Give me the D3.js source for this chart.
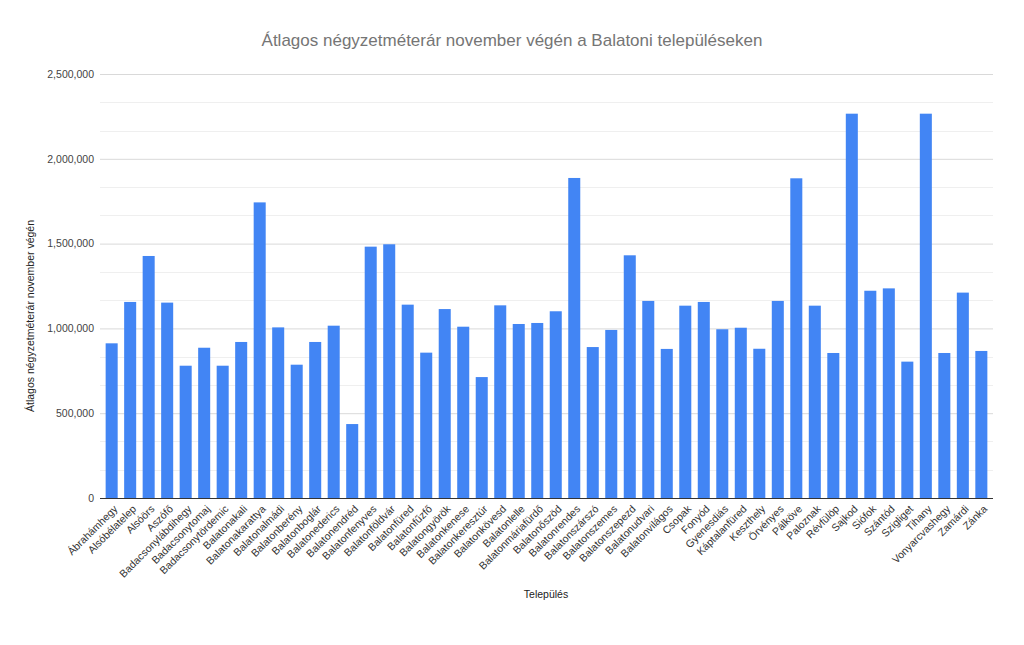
<!DOCTYPE html>
<html>
<head>
<meta charset="utf-8">
<script src="https://cdn.jsdelivr.net/npm/d3@7/dist/d3.min.js"></script>
<style>
  html, body { margin: 0; padding: 0; background: #fff; }
  svg { display: block; font-family: "Liberation Sans", Arial, sans-serif; }
</style>
</head>
<body>
<svg id="chart" width="1024" height="645"></svg>
<script>
const categories = ["Ábrahámhegy","Alsóbélatelep","Alsóörs","Aszófő","Badacsonylábdihegy","Badacsonytomaj","Badacsonytördemic","Balatonakali","Balatonakarattya","Balatonalmádi","Balatonberény","Balatonboglár","Balatonederics","Balatonendréd","Balatonfenyves","Balatonföldvár","Balatonfüred","Balatonfűzfő","Balatongyörök","Balatonkenese","Balatonkeresztúr","Balatonkövesd","Balatonlelle","Balatonmáriafürdő","Balatonőszöd","Balatonrendes","Balatonszárszó","Balatonszemes","Balatonszepezd","Balatonudvari","Balatonvilágos","Csopak","Fonyód","Gyenesdiás","Káptalanfüred","Keszthely","Örvényes","Pálköve","Paloznak","Révfülöp","Sajkod","Siófok","Szántód","Szigliget","Tihany","Vonyarcvashegy","Zamárdi","Zánka"];
const values = [912000,1156000,1427000,1152000,780000,886000,780000,920000,1743000,1006000,786000,920000,1016000,436000,1482000,1496000,1140000,857000,1114000,1010000,713000,1136000,1026000,1032000,1101000,1887000,890000,991000,1431000,1162000,879000,1134000,1156000,995000,1004000,880000,1162000,1885000,1134000,855000,2266000,1222000,1236000,804000,2266000,855000,1211000,867000];
const yTicks = [0, 500000, 1000000, 1500000, 2000000, 2500000];
const title = "Átlagos négyzetméterár november végén a Balatoni településeken";
const yTitle = "Átlagos négyzetméterár november végén";
const xTitle = "Település";

const svg = d3.select("#chart");
const plotLeft = 100, plotRight = 993, plotTop = 74, plotBottom = 498;

const x = d3.scaleBand().domain(categories).range([102.5, 990.5]).paddingInner(0.35).paddingOuter(0.17);
const y = d3.scaleLinear().domain([0, 2500000]).range([plotBottom, plotTop]);

// minor gridlines (3 divisions per major interval)
const minor = [];
for (let i = 0; i < yTicks.length - 1; i++) {
  const a = yTicks[i], b = yTicks[i + 1];
  minor.push(a + (b - a) / 3, a + 2 * (b - a) / 3);
}
svg.append("g").selectAll("line").data(minor).join("line")
  .attr("x1", plotLeft).attr("x2", plotRight)
  .attr("y1", d => Math.round(y(d)) + 0.5).attr("y2", d => Math.round(y(d)) + 0.5)
  .attr("stroke", "#efefef").attr("stroke-width", 1);

// major gridlines + labels via axis
const yAxis = d3.axisLeft(y).tickValues(yTicks).tickFormat(d3.format(",")).tickSize(-(plotRight - plotLeft)).tickPadding(6);
const gy = svg.append("g").attr("transform", `translate(${plotLeft},0)`).call(yAxis);
gy.select(".domain").remove();
gy.selectAll(".tick line").attr("stroke", d => d === 0 ? "#333" : "#d9d9d9");
gy.selectAll(".tick text").attr("fill", "#444").attr("font-size", "10.5px");

// bars
svg.append("g").selectAll("rect").data(values).join("rect")
  .attr("x", (d, i) => x(categories[i]))
  .attr("width", x.bandwidth())
  .attr("y", d => y(d))
  .attr("height", d => y(0) - y(d))
  .attr("fill", "#4285f4");

// baseline on top of bars
svg.append("line").attr("x1", plotLeft).attr("x2", plotRight)
  .attr("y1", y(0) + 0.5).attr("y2", y(0) + 0.5)
  .attr("stroke", "#333").attr("stroke-width", 1);

// x axis labels
const xAxis = d3.axisBottom(x).tickSize(0).tickPadding(0);
const gx = svg.append("g").attr("transform", `translate(0,${plotBottom})`).call(xAxis);
gx.select(".domain").remove();
gx.selectAll(".tick text")
  .attr("fill", "#333")
  .attr("font-size", "10.5px")
  .attr("text-anchor", "end")
  .attr("dy", "0.35em")
  .attr("transform", "translate(4,9) rotate(-45)");

// titles
svg.append("text").attr("x", 512).attr("y", 46).attr("text-anchor", "middle")
  .attr("font-size", "17px").attr("fill", "#757575").text(title);
svg.append("text").attr("transform", "translate(34,316) rotate(-90)").attr("text-anchor", "middle")
  .attr("font-size", "10.5px").attr("fill", "#222").text(yTitle);
svg.append("text").attr("x", 546).attr("y", 598).attr("text-anchor", "middle")
  .attr("font-size", "10.5px").attr("fill", "#222").text(xTitle);
</script>
</body>
</html>
